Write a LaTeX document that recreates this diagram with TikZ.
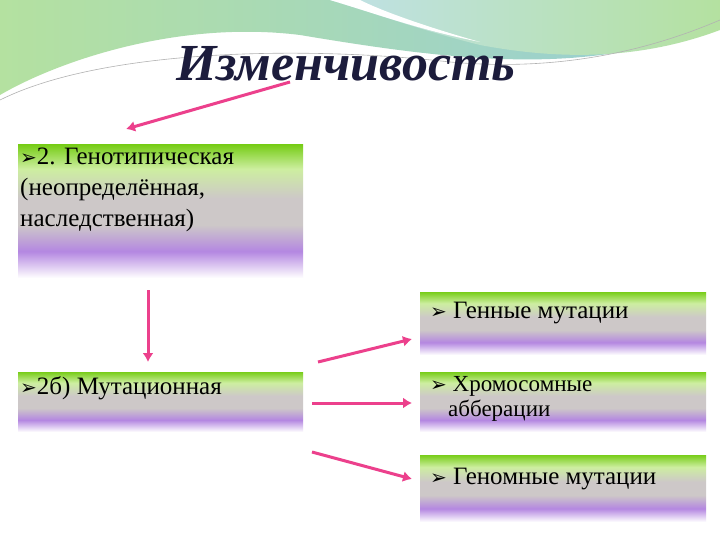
\documentclass[tikz,border=0pt]{standalone}
\usepackage{fontspec}
\usetikzlibrary{arrows.meta}
\setmainfont{Liberation Serif}
\newfontfamily\symf{DejaVu Sans}
\definecolor{gtop}{RGB}{120,205,25}
\definecolor{glight}{RGB}{205,238,160}
\definecolor{ggrey}{RGB}{205,200,200}
\definecolor{gpurp}{RGB}{180,135,225}
\definecolor{arrowpink}{RGB}{236,64,140}
\definecolor{titlec}{RGB}{28,28,60}
\definecolor{teal1}{RGB}{150,205,215}
\definecolor{green1}{RGB}{180,225,160}
\pgfdeclareverticalshading{boxshade}{100bp}{color(0bp)=(white); color(25bp)=(white); color(35bp)=(gpurp); color(45bp)=(ggrey); color(55bp)=(ggrey); color(66bp)=(glight); color(75bp)=(gtop); color(100bp)=(gtop)}
\newcommand{\bul}{{\symf\bfseries\fontsize{20}{20}\selectfont ➢}}
\begin{document}
\begin{tikzpicture}[x=1pt,y=-1pt,
  box/.style={shading=boxshade},
  txt/.style={anchor=north west,font=\fontsize{25}{31}\selectfont,align=left,inner sep=0pt},
  arr/.style={draw=arrowpink,line width=3pt,-{Latex[length=9pt,width=11pt]}}]
\useasboundingbox (0,0) rectangle (720,540);
\fill[white] (0,0) rectangle (720,540);
% header waves
\shade[left color=green1,right color=teal1] (0,0) -- (720,0) -- (720,20) .. controls (600,80) and (450,60) .. (300,35) .. controls (180,20) and (60,60) .. (0,95) -- cycle;
\shade[left color=teal1!60,right color=green1] (330,0) -- (720,0) -- (720,30) .. controls (640,60) and (560,60) .. (480,45) .. controls (420,30) and (380,15) .. (330,0) -- cycle;
\fill[white] (330,0) .. controls (380,15) and (420,30) .. (480,42) .. controls (420,25) and (380,10) .. (360,0) -- cycle;
\draw[gray!60,line width=0.6pt] (0,100) .. controls (100,50) and (300,45) .. (450,62) .. controls (560,72) and (650,50) .. (720,20);
\node[font=\fontsize{52}{56}\selectfont\bfseries\itshape,text=titlec] (title) at (346,64) {Изменчивость};
% boxes
\path[box] (18,145) rectangle (303,278);
\path[box] (18,372) rectangle (303,432);
\path[box] (420,292) rectangle (706,355);
\path[box] (420,372) rectangle (706,432);
\path[box] (420,455) rectangle (706,522);
\node[txt] (g) at (20,148) {\bul2. Генотипическая\\(неопределённая,\\наследственная)};
\node[txt] (m) at (20,376) {\bul2б) Мутационная};
\node[txt] (a) at (430,302) {\bul\ Генные мутации};
\node[txt,font=\fontsize{23}{25}\selectfont] (b) at (430,376) {\bul\ Хромосомные\\\hspace*{18pt}абберации};
\node[txt] (c) at (430,468) {\bul\ Геномные мутации};
% arrows
\coordinate (t0) at (290,82); \coordinate (t1) at (126,129);
\draw[arr] (t0) -- (t1);
\coordinate (v0) at (148,290); \coordinate (v1) at (148,362);
\draw[arr] (v0) -- (v1);
\coordinate (r0) at (318,362); \coordinate (r1) at (412,339);
\draw[arr] (r0) -- (r1);
\coordinate (s0) at (312,403); \coordinate (s1) at (412,403);
\draw[arr] (s0) -- (s1);
\coordinate (u0) at (312,452); \coordinate (u1) at (412,479);
\draw[arr] (u0) -- (u1);
\end{tikzpicture}
\end{document}
